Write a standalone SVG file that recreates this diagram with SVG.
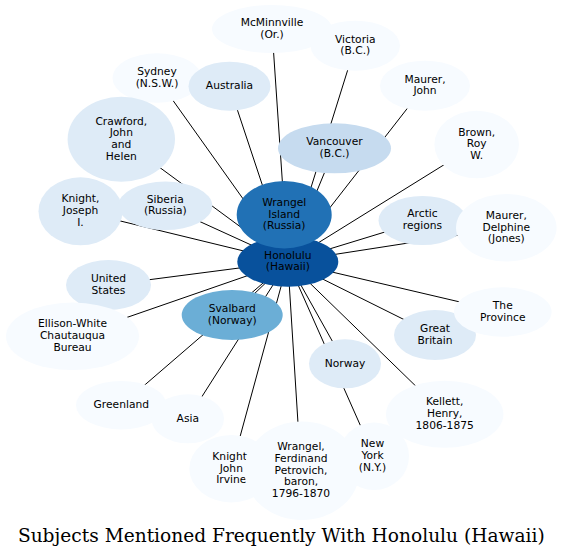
<svg xmlns="http://www.w3.org/2000/svg" width="563" height="557" viewBox="0 0 563 557">
<style>
.e line{stroke:#000;stroke-width:1}
.n text{font-family:"DejaVu Sans",sans-serif;font-size:10.7px;text-anchor:middle;fill:#000}
.c0{fill:#f7fbff}.c1{fill:#deebf7}.c2{fill:#c6dbef}.c4{fill:#6baed6}.c6{fill:#2171b5}.c7{fill:#08519c}
.t{font-family:"DejaVu Serif",serif;font-size:18.6px;text-anchor:middle;fill:#000}
</style>
<rect width="563" height="557" fill="#fff"/>
<g id="edges" class="e">
<line x1="287.8" y1="261.7" x2="284.2" y2="214.7"/>
<line x1="287.8" y1="261.7" x2="272" y2="29"/>
<line x1="287.8" y1="261.7" x2="355.3" y2="45.7"/>
<line x1="287.8" y1="261.7" x2="157" y2="78"/>
<line x1="287.8" y1="261.7" x2="229.5" y2="86.2"/>
<line x1="287.8" y1="261.7" x2="425" y2="85.7"/>
<line x1="287.8" y1="261.7" x2="121.3" y2="139.2"/>
<line x1="287.8" y1="261.7" x2="334.5" y2="148.3"/>
<line x1="287.8" y1="261.7" x2="476.7" y2="144.5"/>
<line x1="287.8" y1="261.7" x2="80.5" y2="211.3"/>
<line x1="287.8" y1="261.7" x2="165.3" y2="205.8"/>
<line x1="287.8" y1="261.7" x2="422.5" y2="220.5"/>
<line x1="287.8" y1="261.7" x2="506.3" y2="227.8"/>
<line x1="287.8" y1="261.7" x2="108.5" y2="285"/>
<line x1="287.8" y1="261.7" x2="72.5" y2="336.3"/>
<line x1="287.8" y1="261.7" x2="232.2" y2="315"/>
<line x1="287.8" y1="261.7" x2="435" y2="335"/>
<line x1="287.8" y1="261.7" x2="502.8" y2="312"/>
<line x1="287.8" y1="261.7" x2="345" y2="363.8"/>
<line x1="287.8" y1="261.7" x2="121.3" y2="405.2"/>
<line x1="287.8" y1="261.7" x2="187.8" y2="418.8"/>
<line x1="287.8" y1="261.7" x2="444.7" y2="414.2"/>
<line x1="287.8" y1="261.7" x2="231.3" y2="468.7"/>
<line x1="287.8" y1="261.7" x2="301" y2="470.8"/>
<line x1="287.8" y1="261.7" x2="374" y2="456.2"/>
</g>
<g id="honolulu" class="n"><ellipse class="c7" cx="287.8" cy="261.7" rx="50.5" ry="25"/><text x="287.8" y="258.6">Honolulu</text><text x="287.8" y="270.3">(Hawaii)</text></g>
<g id="wrangel_island" class="n"><ellipse class="c6" cx="284.2" cy="214.7" rx="47.5" ry="33.7"/><text x="284.2" y="205.8">Wrangel</text><text x="284.2" y="217.5">Island</text><text x="284.2" y="229.2">(Russia)</text></g>
<g id="mcminnville" class="n"><ellipse class="c0" cx="272" cy="29" rx="60" ry="24"/><text x="272" y="26">McMinnville</text><text x="272" y="37.7">(Or.)</text></g>
<g id="victoria" class="n"><ellipse class="c0" cx="355.3" cy="45.7" rx="44.7" ry="25"/><text x="355.3" y="42.6">Victoria</text><text x="355.3" y="54.3">(B.C.)</text></g>
<g id="sydney" class="n"><ellipse class="c0" cx="157" cy="78" rx="44.5" ry="24.7"/><text x="157" y="74.9">Sydney</text><text x="157" y="86.6">(N.S.W.)</text></g>
<g id="australia" class="n"><ellipse class="c1" cx="229.5" cy="86.2" rx="41" ry="24.5"/><text x="229.5" y="89.2">Australia</text></g>
<g id="maurer_john" class="n"><ellipse class="c0" cx="425" cy="85.7" rx="45" ry="25"/><text x="425" y="82.6">Maurer,</text><text x="425" y="94.3">John</text></g>
<g id="crawford" class="n"><ellipse class="c1" cx="121.3" cy="139.2" rx="53.7" ry="42.5"/><text x="121.3" y="124.5">Crawford,</text><text x="121.3" y="136.2">John</text><text x="121.3" y="147.9">and</text><text x="121.3" y="159.6">Helen</text></g>
<g id="vancouver" class="n"><ellipse class="c2" cx="334.5" cy="148.3" rx="56.5" ry="25"/><text x="334.5" y="145.2">Vancouver</text><text x="334.5" y="156.9">(B.C.)</text></g>
<g id="brown" class="n"><ellipse class="c0" cx="476.7" cy="144.5" rx="42.3" ry="33.8"/><text x="476.7" y="135.6">Brown,</text><text x="476.7" y="147.3">Roy</text><text x="476.7" y="159">W.</text></g>
<g id="knight_joseph" class="n"><ellipse class="c1" cx="80.5" cy="211.3" rx="42" ry="34"/><text x="80.5" y="202.4">Knight,</text><text x="80.5" y="214.1">Joseph</text><text x="80.5" y="225.8">I.</text></g>
<g id="siberia" class="n"><ellipse class="c1" cx="165.3" cy="205.8" rx="47" ry="24.2"/><text x="165.3" y="202.7">Siberia</text><text x="165.3" y="214.4">(Russia)</text></g>
<g id="arctic" class="n"><ellipse class="c1" cx="422.5" cy="220.5" rx="44" ry="24.5"/><text x="422.5" y="217.4">Arctic</text><text x="422.5" y="229.1">regions</text></g>
<g id="maurer_delphine" class="n"><ellipse class="c0" cx="506.3" cy="227.8" rx="50.3" ry="33.8"/><text x="506.3" y="218.9">Maurer,</text><text x="506.3" y="230.6">Delphine</text><text x="506.3" y="242.3">(Jones)</text></g>
<g id="united_states" class="n"><ellipse class="c1" cx="108.5" cy="285" rx="42.5" ry="25"/><text x="108.5" y="281.9">United</text><text x="108.5" y="293.6">States</text></g>
<g id="ellison_white" class="n"><ellipse class="c0" cx="72.5" cy="336.3" rx="66.5" ry="33.7"/><text x="72.5" y="327.4">Ellison-White</text><text x="72.5" y="339.1">Chautauqua</text><text x="72.5" y="350.8">Bureau</text></g>
<g id="svalbard" class="n"><ellipse class="c4" cx="232.2" cy="315" rx="50.5" ry="25"/><text x="232.2" y="311.9">Svalbard</text><text x="232.2" y="323.6">(Norway)</text></g>
<g id="great_britain" class="n"><ellipse class="c1" cx="435" cy="335" rx="41" ry="25"/><text x="435" y="331.9">Great</text><text x="435" y="343.6">Britain</text></g>
<g id="the_province" class="n"><ellipse class="c0" cx="502.8" cy="312" rx="48.8" ry="24.7"/><text x="502.8" y="308.9">The</text><text x="502.8" y="320.6">Province</text></g>
<g id="norway" class="n"><ellipse class="c1" cx="345" cy="363.8" rx="36" ry="24.5"/><text x="345" y="366.8">Norway</text></g>
<g id="greenland" class="n"><ellipse class="c0" cx="121.3" cy="405.2" rx="45.3" ry="24.2"/><text x="121.3" y="408.2">Greenland</text></g>
<g id="asia" class="n"><ellipse class="c0" cx="187.8" cy="418.8" rx="36.2" ry="24.5"/><text x="187.8" y="421.8">Asia</text></g>
<g id="kellett" class="n"><ellipse class="c0" cx="444.7" cy="414.2" rx="58.7" ry="33.5"/><text x="444.7" y="405.3">Kellett,</text><text x="444.7" y="417">Henry,</text><text x="444.7" y="428.7">1806-1875</text></g>
<g id="knight_john" class="n"><ellipse class="c0" cx="231.3" cy="468.7" rx="42" ry="33.7"/><text x="231.3" y="459.8">Knight,</text><text x="231.3" y="471.5">John</text><text x="231.3" y="483.2">Irvine</text></g>
<g id="wrangel_ferdinand" class="n"><ellipse class="c0" cx="302" cy="470.8" rx="57.5" ry="49.2"/><text x="301" y="450.2">Wrangel,</text><text x="301" y="461.9">Ferdinand</text><text x="301" y="473.6">Petrovich,</text><text x="301" y="485.3">baron,</text><text x="301" y="497">1796-1870</text></g>
<g id="new_york" class="n"><ellipse class="c0" cx="374" cy="456.2" rx="35" ry="33.8"/><text x="372.5" y="447.3">New</text><text x="372.5" y="459">York</text><text x="372.5" y="470.7">(N.Y.)</text></g>
<text class="t" x="281.3" y="541.7">Subjects Mentioned Frequently With Honolulu (Hawaii)</text>
</svg>
